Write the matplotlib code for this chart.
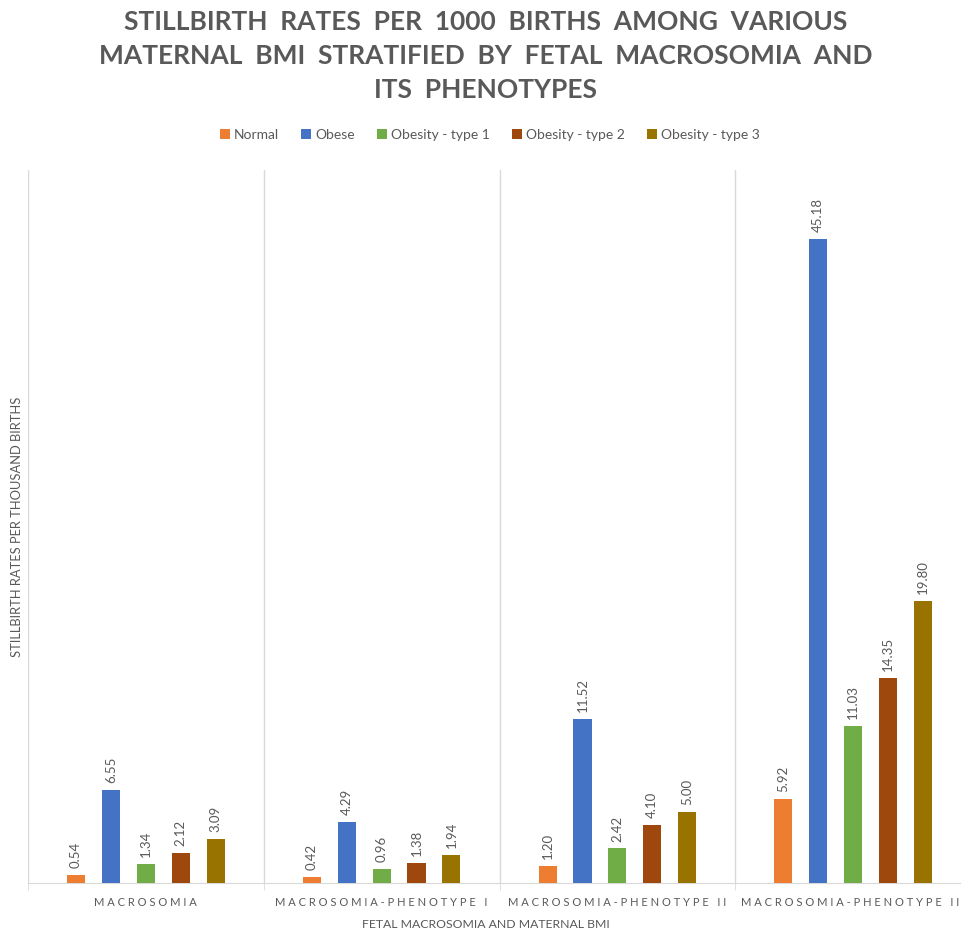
import matplotlib

matplotlib.use("Agg")
import matplotlib.pyplot as plt
import numpy as np

plt.rcParams["font.family"] = ["Lato", "DejaVu Sans"]

categories = [
    "MACROSOMIA",
    "MACROSOMIA-PHENOTYPE I",
    "MACROSOMIA-PHENOTYPE II",
    "MACROSOMIA-PHENOTYPE III",
]
series_names = ["Normal", "Obese", "Obesity - type 1", "Obesity - type 2", "Obesity - type 3"]
normal = [0.54, 0.42, 1.20, 5.92]
obese = [6.55, 4.29, 11.52, 45.18]
obesity_type1 = [1.34, 0.96, 2.42, 11.03]
obesity_type2 = [2.12, 1.38, 4.10, 14.35]
obesity_type3 = [3.09, 1.94, 5.00, 19.80]

series_values = [normal, obese, obesity_type1, obesity_type2, obesity_type3]
colors = ["#ED7D31", "#4472C4", "#70AD47", "#9E480E", "#997300"]
text_gray = "#595959"
grid_gray = "#D9D9D9"


def spaced(label):
    # Excel-style letter spacing on the category labels
    return " ".join(label)


fig = plt.figure(figsize=(9.61, 9.30), dpi=100)
# plot area runs a little past the right edge, as in the original export
ax = fig.add_axes([28 / 961, 47 / 930, 943 / 961, 713 / 930])

x = np.arange(len(categories))
bar_width = 0.077
step = 0.148

for i, (name, values, color) in enumerate(zip(series_names, series_values, colors)):
    offset = (i - 2) * step
    bars = ax.bar(x + offset, values, width=bar_width, color=color, label=name, zorder=3)
    for bar, value in zip(bars, values):
        ax.annotate(
            f"{value:.2f}",
            (bar.get_x() + bar.get_width() / 2, bar.get_height()),
            xytext=(0, 5),
            textcoords="offset points",
            ha="center",
            va="bottom",
            rotation=90,
            fontsize=9.5,
            color=text_gray,
        )

ax.set_xlim(-0.5, len(categories) - 0.5)
ax.set_ylim(0, 50)

# group separators
for b in np.arange(-0.5, len(categories), 1.0):
    ax.axvline(b, color=grid_gray, linewidth=1, zorder=1)

ax.set_xticks(x)
ax.set_xticklabels([spaced(c) for c in categories], fontsize=8, color=text_gray)
ax.set_xticks(np.arange(-0.5, len(categories), 1.0), minor=True)
ax.tick_params(axis="x", which="major", length=0, pad=10)
ax.tick_params(axis="x", which="minor", length=5, color=grid_gray, direction="out")
ax.set_yticks([])

for side in ["top", "right", "left"]:
    ax.spines[side].set_visible(False)
ax.spines["bottom"].set_color(grid_gray)

fig.text(
    17 / 961,
    1 - 527 / 930,
    "STILLBIRTH RATES PER THOUSAND BIRTHS",
    rotation=90,
    ha="center",
    va="center",
    fontsize=9.3,
    color=text_gray,
)
fig.text(
    486 / 961,
    1 - 924 / 930,
    "FETAL MACROSOMIA AND MATERNAL BMI",
    ha="center",
    va="center",
    fontsize=8.8,
    color=text_gray,
)

fig.text(
    486 / 961,
    1 - 56 / 930,
    "STILLBIRTH  RATES  PER  1000  BIRTHS  AMONG  VARIOUS\n"
    "MATERNAL  BMI  STRATIFIED  BY  FETAL  MACROSOMIA  AND\n"
    "ITS  PHENOTYPES",
    ha="center",
    va="center",
    fontsize=19,
    fontweight="bold",
    color=text_gray,
    linespacing=1.5,
)

fig.legend(
    loc="center",
    bbox_to_anchor=(490 / 961, 1 - 135 / 930),
    ncol=5,
    frameon=False,
    fontsize=10,
    handlelength=0.7,
    handleheight=0.7,
    handletextpad=0.3,
    columnspacing=1.6,
    labelcolor=text_gray,
)

fig.savefig("out.png", dpi=100)
